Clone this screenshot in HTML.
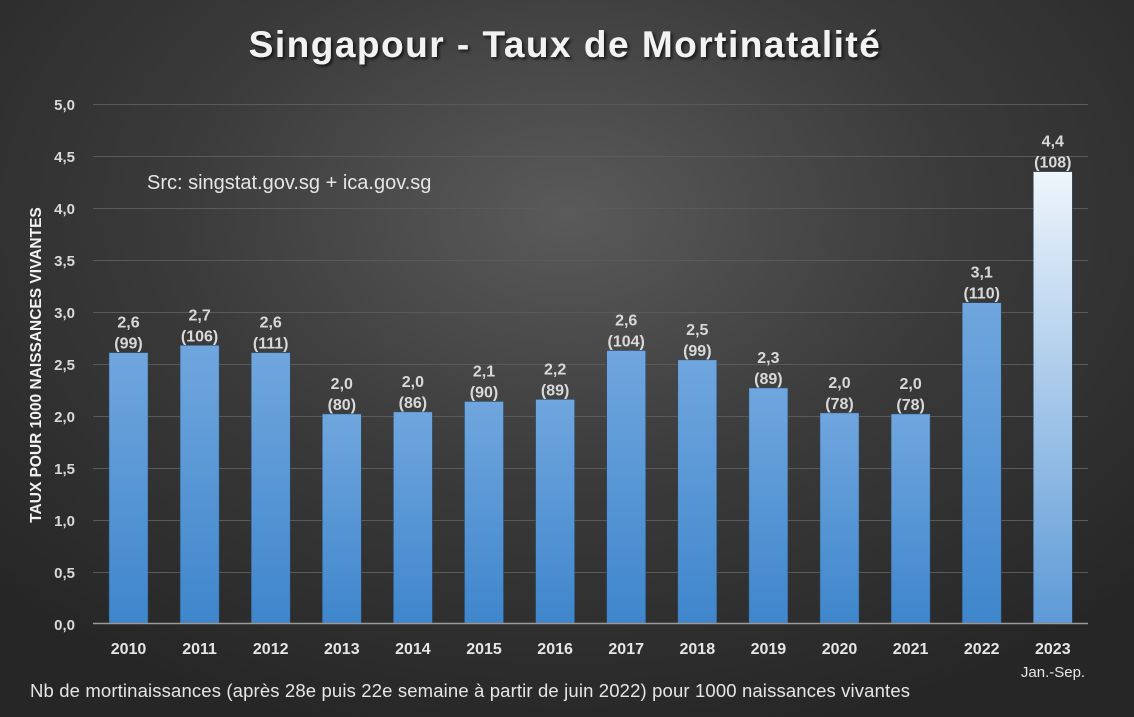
<!DOCTYPE html>
<html><head><meta charset="utf-8"><style>
html,body{margin:0;padding:0}
body{width:1134px;height:717px;overflow:hidden;background:radial-gradient(ellipse 70% 75% at 50% 30%,#5a5a5a 0%,#3a3a3a 50%,#262626 100%);font-family:"Liberation Sans",sans-serif}
</style></head><body>
<svg width="1134" height="717" xmlns="http://www.w3.org/2000/svg" style="position:absolute;left:0;top:0">
<defs>
<linearGradient id="b" x1="0" y1="0" x2="0" y2="1"><stop offset="0" stop-color="#70a6de"/><stop offset="1" stop-color="#3f86cc"/></linearGradient>
<linearGradient id="w" x1="0" y1="0" x2="0" y2="1"><stop offset="0" stop-color="#eef5fc"/><stop offset="1" stop-color="#5d9ad6"/></linearGradient>
<filter id="s"><feDropShadow dx="2" dy="2" stdDeviation="1.5" flood-color="#000" flood-opacity="0.7"/></filter>
</defs>
<text x="565" y="57" text-anchor="middle" font-size="37" font-weight="bold" fill="#f2f2f2" filter="url(#s)" letter-spacing="1.5">Singapour - Taux de Mortinatalité</text>
<g stroke="#5a5a5a" stroke-width="1">
<line x1="93" x2="1088" y1="104.5" y2="104.5"/><line x1="93" x2="1088" y1="156.5" y2="156.5"/><line x1="93" x2="1088" y1="208.5" y2="208.5"/><line x1="93" x2="1088" y1="260.5" y2="260.5"/><line x1="93" x2="1088" y1="312.5" y2="312.5"/><line x1="93" x2="1088" y1="364.5" y2="364.5"/><line x1="93" x2="1088" y1="416.5" y2="416.5"/><line x1="93" x2="1088" y1="468.5" y2="468.5"/><line x1="93" x2="1088" y1="520.5" y2="520.5"/><line x1="93" x2="1088" y1="572.5" y2="572.5"/>
</g>
<g font-size="15" font-weight="bold" fill="#d9d9d9" text-anchor="end">
<text x="75" y="110">5,0</text><text x="75" y="162">4,5</text><text x="75" y="214">4,0</text><text x="75" y="266">3,5</text><text x="75" y="318">3,0</text><text x="75" y="370">2,5</text><text x="75" y="422">2,0</text><text x="75" y="474">1,5</text><text x="75" y="526">1,0</text><text x="75" y="578">0,5</text><text x="75" y="630">0,0</text>
</g>
<text transform="translate(41,365) rotate(-90)" text-anchor="middle" font-size="15.5" font-weight="bold" fill="#f2f2f2">TAUX POUR 1000 NAISSANCES VIVANTES</text>
<text x="147" y="189" font-size="20" fill="#e6e6e6">Src: singstat.gov.sg + ica.gov.sg</text>
<g id="bars"></g>
<line x1="93" x2="1088" y1="623.5" y2="623.5" stroke="#9a9a9a" stroke-width="1.5"/>
<text x="30" y="697" font-size="18.5" fill="#e6e6e6" textLength="880">Nb de mortinaissances (après 28e puis 22e semaine à partir de juin 2022) pour 1000 naissances vivantes</text>
<text x="1053" y="677" text-anchor="middle" font-size="15" fill="#e6e6e6">Jan.-Sep.</text>
</svg>
<script>
var d=[["2010",2.6,"2,6","(99)"],["2011",2.67,"2,7","(106)"],["2012",2.6,"2,6","(111)"],["2013",2.01,"2,0","(80)"],["2014",2.03,"2,0","(86)"],["2015",2.13,"2,1","(90)"],["2016",2.15,"2,2","(89)"],["2017",2.62,"2,6","(104)"],["2018",2.53,"2,5","(99)"],["2019",2.26,"2,3","(89)"],["2020",2.02,"2,0","(78)"],["2021",2.01,"2,0","(78)"],["2022",3.08,"3,1","(110)"],["2023",4.34,"4,4","(108)"]];
var g=document.getElementById("bars"),h="";
d.forEach(function(r,i){var x=109+71.1*i,t=623-r[1]*104,c=x+19.5;
h+='<rect x="'+x+'" y="'+t+'" width="39" height="'+(623-t)+'" fill="url(#'+(i==13?'w':'b')+')" stroke="#2a4a6a" stroke-width="0.5"/>';
h+='<text x="'+c+'" y="'+(t-25)+'" text-anchor="middle" font-size="16" font-weight="bold" fill="#d9d9d9">'+r[2]+'</text>';
h+='<text x="'+c+'" y="'+(t-4)+'" text-anchor="middle" font-size="16" font-weight="bold" fill="#d9d9d9">'+r[3]+'</text>';
h+='<text x="'+c+'" y="654" text-anchor="middle" font-size="16" font-weight="bold" fill="#e6e6e6">'+r[0]+'</text>';});
g.innerHTML=h;
</script>
</body></html>
